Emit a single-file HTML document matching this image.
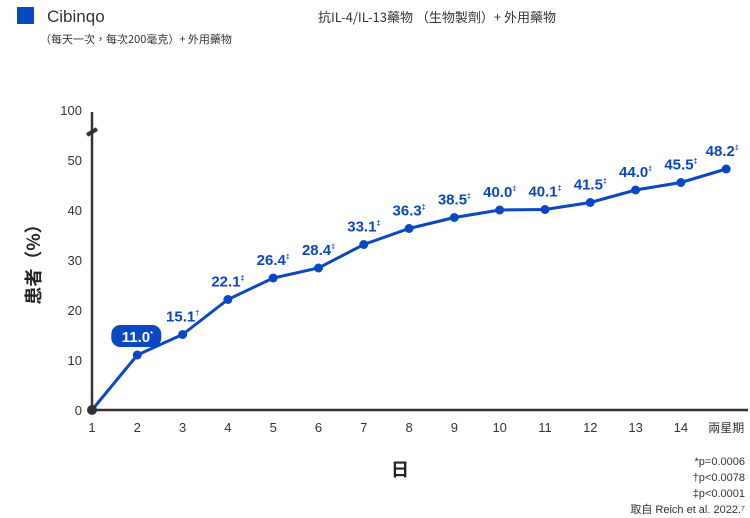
<!DOCTYPE html>
<html><head><meta charset="utf-8"><style>
body{margin:0;background:#fff;width:750px;height:518px;overflow:hidden;font-family:"Liberation Sans","Noto Sans CJK TC",sans-serif}
svg{position:absolute;left:0;top:0}
</style></head><body>
<svg width="750" height="518">
<rect x="17" y="7" width="17" height="17" fill="#0a47c2"/>
<text x="47" y="22" font-size="17" fill="#333">Cibinqo</text>
<text x="40" y="43" font-size="11" fill="#333" font-family="Noto Sans CJK TC,sans-serif">（每天一次，每次200毫克）+ 外用藥物</text>
<text x="318" y="22" font-size="13" fill="#333" font-family="Noto Sans CJK TC,sans-serif">抗IL-4/IL-13藥物 （生物製劑）+ 外用藥物</text>
<text transform="translate(40,260) rotate(-90)" text-anchor="middle" font-size="18" font-weight="bold" fill="#222" font-family="Noto Sans CJK TC,sans-serif">患者（%）</text>
<text x="400" y="476" text-anchor="middle" font-size="18" font-weight="bold" fill="#222" font-family="Noto Sans CJK TC,sans-serif">日</text>
<g font-size="11" fill="#333" text-anchor="end">
<text x="745" y="465">*p=0.0006</text><text x="745" y="481">†p&lt;0.0078</text><text x="745" y="497">‡p&lt;0.0001</text>
<text x="745" y="513" font-family="Liberation Sans,Noto Sans CJK TC,sans-serif">取自 Reich et al. 2022.⁷</text></g>
<g id="axes"></g><g id="marks"></g>
</svg>
<script>
const categories=["1","2","3","4","5","6","7","8","9","10","11","12","13","14","兩星期"];
const values=[0,11.0,15.1,22.1,26.4,28.4,33.1,36.3,38.5,40.0,40.1,41.5,44.0,45.5,48.2];
const valueLabels=["","11.0","15.1","22.1","26.4","28.4","33.1","36.3","38.5","40.0","40.1","41.5","44.0","45.5","48.2"];
const marks=["","*","†","‡","‡","‡","‡","‡","‡","‡","‡","‡","‡","‡","‡"];
const yTicks=[0,10,20,30,40,50];
const NS="http://www.w3.org/2000/svg";
const x=i=>92+i*45.3;
const y=v=>410-v*5;
function mk(t,a,p){const e=document.createElementNS(NS,t);for(const k in a)e.setAttribute(k,a[k]);p.appendChild(e);return e;}
const ax=document.getElementById('axes'),mg=document.getElementById('marks');
let e=mk('line',{x1:92,y1:410,x2:92,y2:112,stroke:'#333','stroke-width':2.5},ax);


e=mk('line',{x1:92,y1:410,x2:748,y2:410,stroke:'#333','stroke-width':2.5},ax);


e=mk('line',{x1:87,y1:135,x2:97,y2:129,stroke:'#333','stroke-width':4},ax);


yTicks.forEach(v=>{const t=mk('text',{x:82,y:y(v)+5,'text-anchor':'end','font-size':13,fill:'#333'},ax);t.textContent=v;

});
e=mk('text',{x:82,y:115,'text-anchor':'end','font-size':13,fill:'#333'},ax);e.textContent='100';


categories.forEach((c,i)=>{const t=mk('text',{x:x(i),y:432,'text-anchor':'middle','font-size':i==14?12:13,fill:'#333'},ax);t.textContent=c;

});
e=mk('polyline',{points:values.map((v,i)=>x(i)+','+y(v)).join(' '),fill:'none',stroke:'#0a47c2','stroke-width':3},mg);


values.forEach((v,i)=>{
const c=mk('circle',{cx:x(i),cy:y(v),r:i==0?5:4.5,fill:i==0?'#333':'#0a47c2'},mg);


if(!valueLabels[i])return;
const ly=y(v)-13;
if(i==1){const r=mk('rect',{x:x(i)-26,y:ly-17,width:50,height:22,rx:9,fill:'#0a47c2'},mg);

}
const t=mk('text',{x:x(i)+(i==14?-4:0),y:ly,'text-anchor':'middle','font-size':15,'font-weight':'bold',fill:i==1?'#fff':'#0a47c2'},mg);
t.textContent=valueLabels[i];
const s=mk('tspan',{'font-size':7,dy:-6},t);s.textContent=marks[i];


});
</script>
</body></html>
